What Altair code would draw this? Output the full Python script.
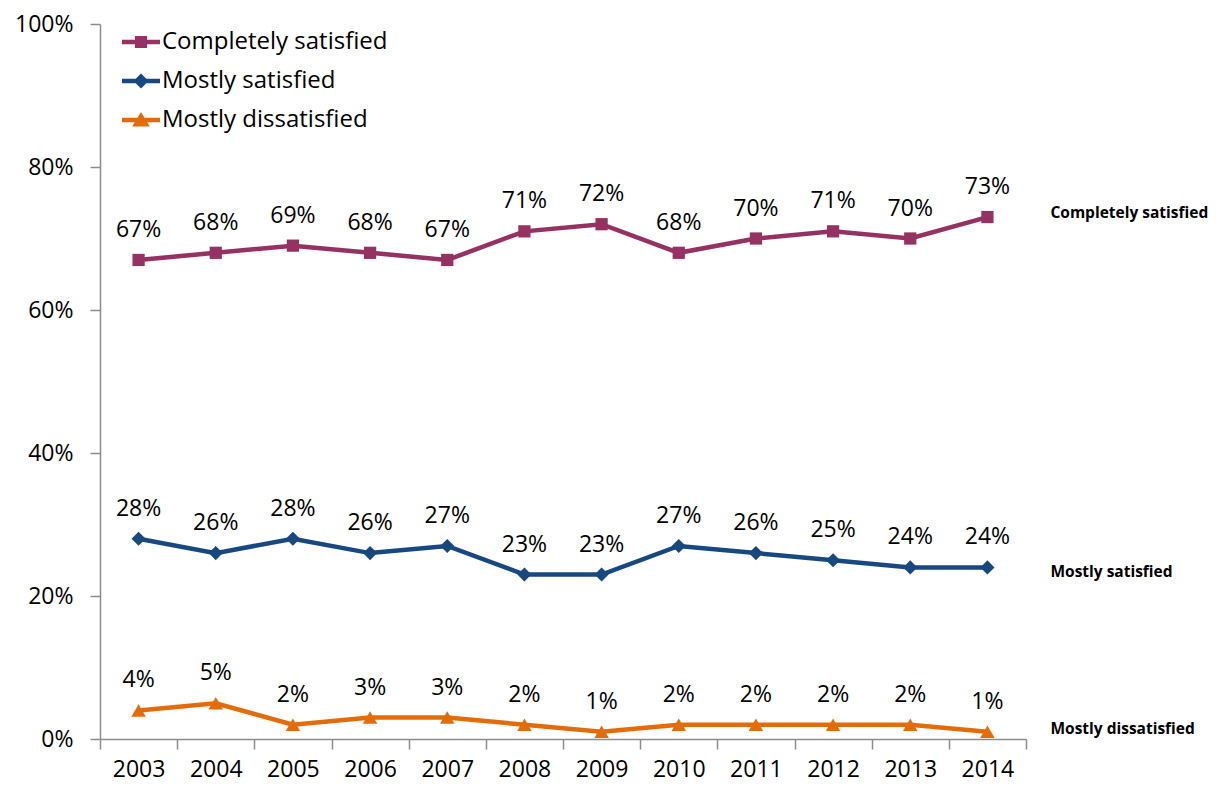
import altair as alt
import pandas as pd

years = ["2003", "2004", "2005", "2006", "2007", "2008", "2009", "2010", "2011", "2012", "2013", "2014"]
series_names = ["Completely satisfied", "Mostly satisfied", "Mostly dissatisfied"]
completely_satisfied = [67, 68, 69, 68, 67, 71, 72, 68, 70, 71, 70, 73]
mostly_satisfied = [28, 26, 28, 26, 27, 23, 23, 27, 26, 25, 24, 24]
mostly_dissatisfied = [4, 5, 2, 3, 3, 2, 1, 2, 2, 2, 2, 1]
colors = ["#953163", "#17487F", "#E36C09"]
shapes = ["square", "diamond", "triangle-up"]
marker_sizes = [150, 200, 210]
end_label_dy = [-4, 5, -3]

# legend symbols: line segment with the marker in the middle (unit = half the symbol width)
legend_paths = [
    "M-1,-0.12H1V0.12H-1Z M-0.32,-0.32H0.32V0.32H-0.32Z",
    "M-1,-0.12H1V0.12H-1Z M0,-0.4L0.4,0L0,0.4L-0.4,0Z",
    "M-1,-0.12H1V0.12H-1Z M0,-0.42L0.46,0.34L-0.46,0.34Z",
]

rows = []
for name, vals in zip(series_names, [completely_satisfied, mostly_satisfied, mostly_dissatisfied]):
    for y, v in zip(years, vals):
        rows.append({"series": name, "year": y, "value": v / 100})
df = pd.DataFrame(rows)

FONT = "Open Sans"
color_scale = alt.Scale(domain=series_names, range=colors)

x_enc = alt.X(
    "year:O",
    bandPosition=0.5,
    scale=alt.Scale(type="band", paddingInner=0, paddingOuter=0),
    axis=alt.Axis(
        title=None, labelAngle=0, tickBand="extent", tickSize=10, labelPadding=9,
        labelFontSize=23, labelColor="#000000", domainColor="#8C8C8C", tickColor="#8C8C8C",
        domainWidth=1.5, tickWidth=1.5, labelFont=FONT,
    ),
)
y_enc = alt.Y(
    "value:Q",
    scale=alt.Scale(domain=[0, 1]),
    axis=alt.Axis(
        title=None, values=[0, 0.2, 0.4, 0.6, 0.8, 1.0], format=".0%", grid=False,
        tickSize=10, labelPadding=17, labelFontSize=23, labelColor="#000000",
        domainColor="#8C8C8C", tickColor="#8C8C8C", domainWidth=1.5, tickWidth=1.5,
        labelFont=FONT,
    ),
)

base = alt.Chart(df)

layers = []
for name, col in zip(series_names, colors):
    layers.append(
        base.transform_filter(alt.datum.series == name)
        .mark_line(strokeWidth=4.5, color=col)
        .encode(x=x_enc, y=y_enc)
    )
for name, shp, sz, col in zip(series_names, shapes, marker_sizes, colors):
    layers.append(
        base.transform_filter(alt.datum.series == name)
        .mark_point(shape=shp, filled=True, size=sz, opacity=1, strokeWidth=0, color=col)
        .encode(x=x_enc, y=y_enc)
    )

labels = base.mark_text(dy=-30, fontSize=23, font=FONT, color="#000000").encode(
    x=x_enc, y=y_enc, text=alt.Text("value:Q", format=".0%")
)
layers.append(labels)

for name, dy in zip(series_names, end_label_dy):
    layers.append(
        base.transform_filter((alt.datum.series == name) & (alt.datum.year == years[-1]))
        .mark_text(align="left", dx=63, dy=dy, fontSize=15.5, fontWeight="bold", font=FONT, color="#000000")
        .encode(x=x_enc, y=y_enc, text="series:N")
    )

legend_layer = base.transform_filter("false").mark_point(
    filled=True, opacity=1, strokeWidth=0, size=1444
).encode(
    x=x_enc, y=y_enc,
    color=alt.Color(
        "series:N", scale=color_scale,
        legend=alt.Legend(
            title=None, orient="none", legendX=22, legendY=-1, symbolSize=1444,
            labelFontSize=24, labelFont=FONT, labelColor="#000000", labelOffset=2,
            rowPadding=8, padding=0, symbolStrokeWidth=0, labelLimit=400,
        ),
    ),
    shape=alt.Shape("series:N", scale=alt.Scale(domain=series_names, range=legend_paths)),
)
layers.append(legend_layer)

chart = alt.layer(*layers).properties(
    width=926, height=715,
    autosize=alt.AutoSizeParams(type="none"),
    padding={"left": 92, "top": 16, "right": 195, "bottom": 48},
).configure(font=FONT).configure_view(stroke="transparent", strokeWidth=0)

chart.save("out.html", embed_options={"renderer": "svg", "actions": False})
